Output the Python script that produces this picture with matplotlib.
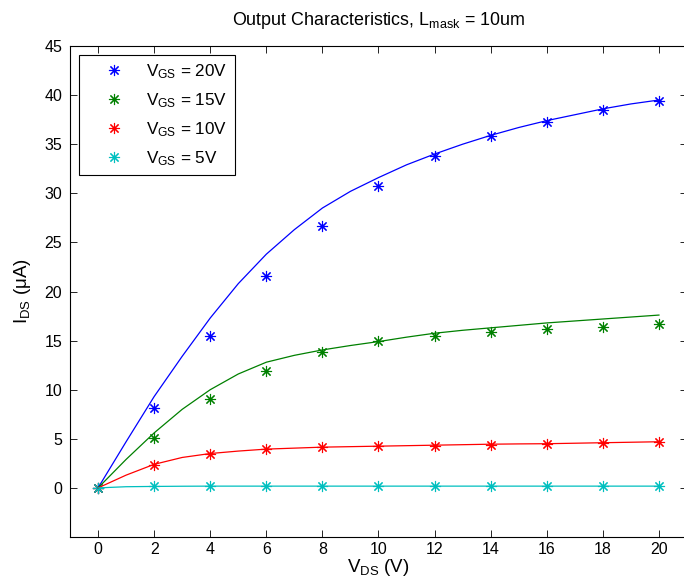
import matplotlib
matplotlib.use("Agg")
import matplotlib.pyplot as plt

plt.rcParams['font.family'] = ['Liberation Sans', 'DejaVu Sans']
plt.rcParams['mathtext.default'] = 'regular'

# measured points (every 2 V)
vds_meas = [0, 2, 4, 6, 8, 10, 12, 14, 16, 18, 20]
ids_20_meas = [0, 8.1, 15.5, 21.6, 26.7, 30.7, 33.8, 35.8, 37.3, 38.5, 39.4]
ids_15_meas = [0, 5.1, 9.1, 11.9, 13.8, 15.0, 15.5, 15.9, 16.2, 16.4, 16.7]
ids_10_meas = [0, 2.3, 3.5, 4.0, 4.2, 4.3, 4.3, 4.4, 4.45, 4.6, 4.65]
ids_5_meas = [0, 0.2, 0.2, 0.2, 0.2, 0.2, 0.2, 0.2, 0.2, 0.2, 0.2]

# model curves (every 1 V)
vds_model = list(range(0, 21))
ids_20_model = [0, 4.7, 9.3, 13.4, 17.3, 20.8, 23.8, 26.3, 28.5, 30.2, 31.6,
                32.9, 34.0, 35.0, 35.9, 36.7, 37.4, 38.0, 38.6, 39.1, 39.5]
ids_15_model = [0, 2.9, 5.6, 8.0, 10.0, 11.6, 12.8, 13.5, 14.05, 14.5, 14.9,
                15.35, 15.75, 16.05, 16.3, 16.55, 16.8, 17.0, 17.2, 17.4, 17.6]
ids_10_model = [0, 1.3, 2.4, 3.1, 3.5, 3.75, 3.95, 4.05, 4.15, 4.2, 4.25,
                4.3, 4.35, 4.4, 4.45, 4.48, 4.5, 4.55, 4.6, 4.65, 4.7]
ids_5_model = [0, 0.12, 0.15, 0.17, 0.18, 0.18, 0.18, 0.18, 0.18, 0.18, 0.18,
               0.18, 0.18, 0.18, 0.18, 0.18, 0.18, 0.18, 0.18, 0.18, 0.18]

labels = ['$V_{GS}$ = 20V', '$V_{GS}$ = 15V', '$V_{GS}$ = 10V', '$V_{GS}$ = 5V']
colors = ['#0000ff', '#008000', '#ff0000', '#00bfbf']

fig = plt.figure(figsize=(6.84, 5.84), dpi=100)
# right edge of the box falls just past the picture, as in the original
ax = fig.add_axes([70 / 684, 47 / 584, 617 / 684, 491 / 584])

meas = [ids_20_meas, ids_15_meas, ids_10_meas, ids_5_meas]
model = [ids_20_model, ids_15_model, ids_10_model, ids_5_model]

asterisk = (8, 2, 0)
for y, c, lab in zip(meas, colors, labels):
    ax.plot(vds_meas, y, linestyle='none', marker=asterisk, markersize=8,
            markeredgewidth=0.8, color=c, label=lab)
for y, c in zip(model, colors):
    ax.plot(vds_model, y, '-', color=c, linewidth=0.9)

ax.set_xlim(-1, 21)
ax.set_ylim(-5, 45)
ax.set_xticks(range(0, 21, 2))
ax.set_yticks(range(0, 46, 5))
ax.tick_params(direction='in', top=True, right=True, labelsize=11.5, length=5, width=0.6)
ax.tick_params(axis='y', pad=5.5)
for s in ax.spines.values():
    s.set_linewidth(0.8)

ax.set_title('Output Characteristics, $L_{mask}$ = 10um', fontsize=12.9, pad=15)
ax.set_xlabel('$V_{DS}$ (V)', fontsize=13.5, labelpad=0)
ax.set_ylabel('$I_{DS}$ (\u03bcA)', fontsize=13.5, labelpad=8)

leg = ax.legend(loc='upper left', fontsize=12.3, fancybox=False, framealpha=1,
                edgecolor='black', borderaxespad=0.5, handletextpad=0.2,
                labelspacing=0.6, borderpad=0.45, handlelength=3.3)
leg.get_frame().set_linewidth(0.8)

fig.savefig('out.png', dpi=100)
